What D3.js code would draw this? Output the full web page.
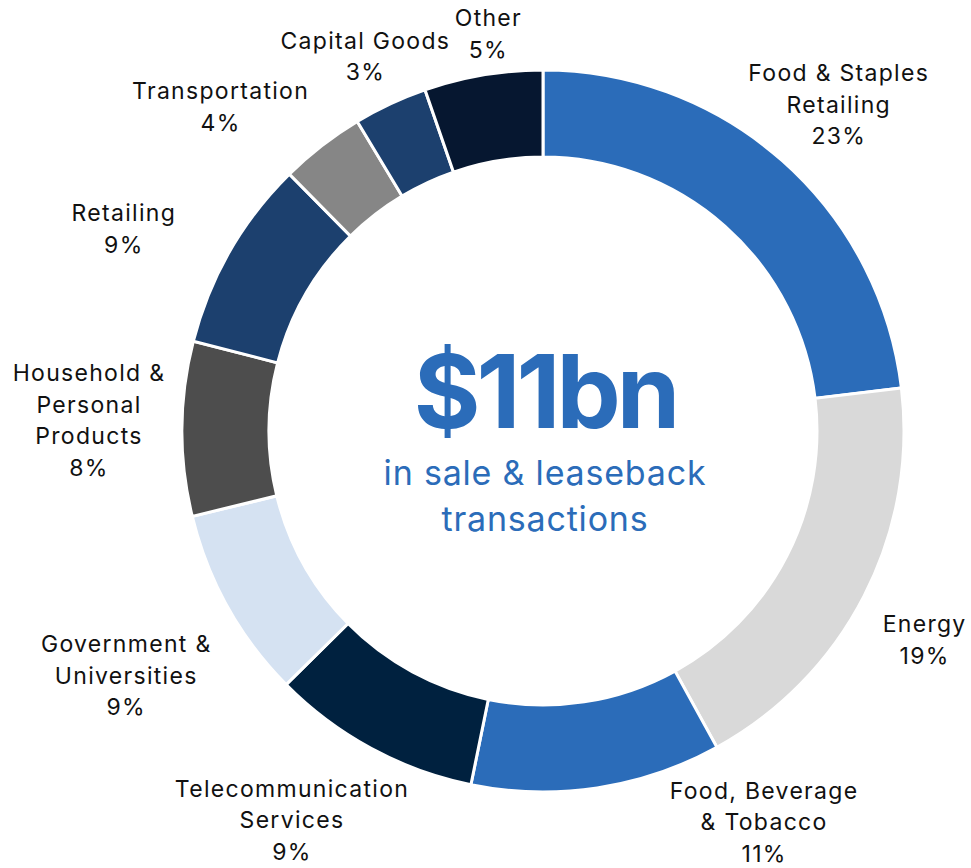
<!DOCTYPE html>
<html lang="en">
<head>
    <meta charset="UTF-8">
    <title>Sale & leaseback by sector</title>
    <script src="https://cdn.jsdelivr.net/npm/d3@7"></script>
    <style>
        body {
            margin: 0;
            background: #fff;
            font-family: 'Inter', 'Liberation Sans', sans-serif;
        }
        svg {
            display: block;
        }
        .label {
            font-size: 23px;
            letter-spacing: 1.3px;
            fill: #111;
        }
    </style>
</head>
<body>
    <svg></svg>
    <script>
        // sectors, clockwise from 12 o'clock
        const sectors = ["Food & Staples Retailing", "Energy", "Food, Beverage & Tobacco",
            "Telecommunication Services", "Government & Universities", "Household & Personal Products",
            "Retailing", "Transportation", "Capital Goods", "Other"];
        // slice sizes
        const shares = [23.1, 18.9, 11.2, 9.4, 8.6, 7.8, 8.6, 3.8, 3.3, 5.3];
        // percentages as printed on the labels
        const shareLabels = ["23%", "19%", "11%", "9%", "9%", "8%", "9%", "4%", "3%", "5%"];
        const labelLines = [
            ["Food & Staples", "Retailing"],
            ["Energy"],
            ["Food, Beverage", "& Tobacco"],
            ["Telecommunication", "Services"],
            ["Government &", "Universities"],
            ["Household &", "Personal", "Products"],
            ["Retailing"],
            ["Transportation"],
            ["Capital Goods"],
            ["Other"]
        ];
        const colors = ["#2B6CB9", "#D9D9D9", "#2B6CB9", "#00213F", "#D5E2F2",
            "#4D4D4D", "#1C406E", "#868686", "#1C406E", "#061730"];

        const totalLabel = "$11bn";
        const subtitle = ["in sale & leaseback", "transactions"];

        const width = 971, height = 868;
        const cx = 543, cy = 431;
        const outerR = 361, innerR = 274;
        const labelR = 420;
        const lineH = 31.5;

        // hand-tuned label offsets from the radial anchor point
        const nudge = {
            "Food & Staples Retailing": [17, -12],
            "Energy": [8, 17],
            "Food, Beverage & Tobacco": [158, -24],
            "Telecommunication Services": [-51, 20],
            "Government & Universities": [-50, 40],
            "Household & Personal Products": [-34, -8],
            "Retailing": [-55, 7],
            "Transportation": [-65, 8],
            "Capital Goods": [0, 6],
            "Other": [15, 17]
        };

        const data = sectors.map((s, i) => ({
            sector: s, value: shares[i], pct: shareLabels[i], lines: labelLines[i], color: colors[i]
        }));

        const svg = d3.select("svg")
            .attr("width", width)
            .attr("height", height);

        const g = svg.append("g").attr("transform", `translate(${cx},${cy})`);

        const pie = d3.pie().sort(null).value(d => d.value);
        const arc = d3.arc().innerRadius(innerR).outerRadius(outerR);
        const arcs = pie(data);

        g.selectAll("path.slice")
            .data(arcs)
            .enter().append("path")
            .attr("class", "slice")
            .attr("d", arc)
            .attr("fill", d => d.data.color)
            .attr("stroke", "#fff")
            .attr("stroke-width", 3);

        const labels = g.selectAll("text.label")
            .data(arcs)
            .enter().append("text")
            .attr("class", "label")
            .attr("text-anchor", "middle")
            .attr("transform", d => {
                const a = (d.startAngle + d.endAngle) / 2;
                const n = nudge[d.data.sector];
                const x = labelR * Math.sin(a) + n[0];
                const y = -labelR * Math.cos(a) + n[1];
                return `translate(${x},${y})`;
            });

        labels.each(function (d) {
            const lines = d.data.lines.concat([d.data.pct]);
            const top = -(lines.length - 1) * lineH / 2;
            d3.select(this).selectAll("tspan")
                .data(lines)
                .enter().append("tspan")
                .attr("x", 0)
                .attr("y", (l, i) => top + i * lineH)
                .attr("dy", "0.35em")
                .text(l => l);
        });

        // centre text
        g.append("text")
            .attr("text-anchor", "middle")
            .attr("x", 2)
            .attr("y", -3)
            .attr("fill", "#2B6CB9")
            .attr("font-size", 102)
            .attr("font-weight", 700)
            .attr("letter-spacing", -4)
            .text(totalLabel);

        g.selectAll("text.sub")
            .data(subtitle)
            .enter().append("text")
            .attr("class", "sub")
            .attr("text-anchor", "middle")
            .attr("x", 2)
            .attr("y", (d, i) => 54 + i * 46)
            .attr("fill", "#2B6CB9")
            .attr("font-size", 34)
            .attr("letter-spacing", 0.8)
            .text(d => d);
    </script>
</body>
</html>
